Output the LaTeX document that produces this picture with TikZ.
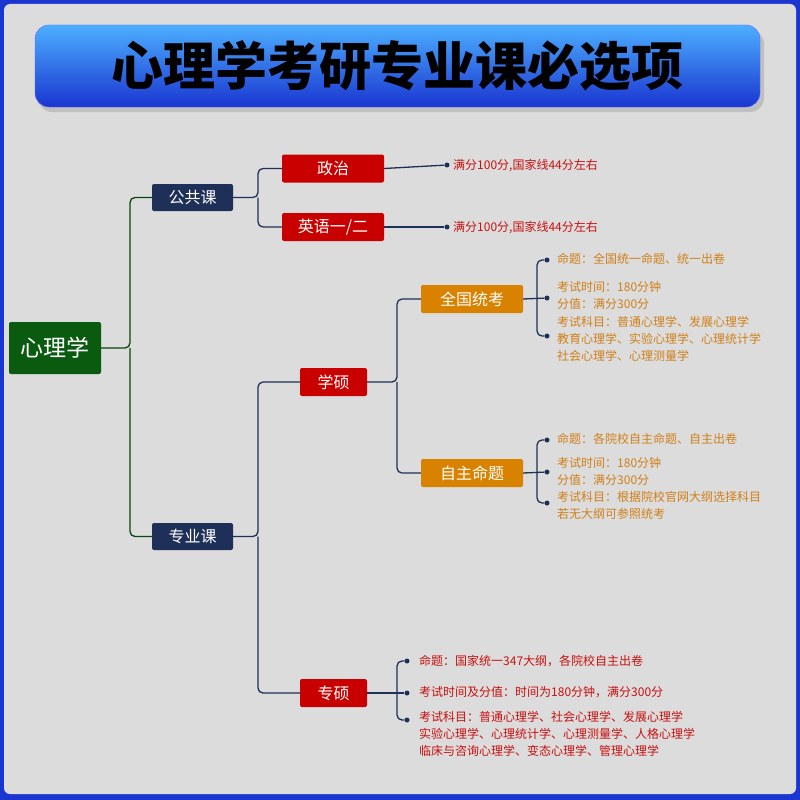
\documentclass[tikz,border=0pt]{standalone}
\usepackage{fontspec}
\newfontfamily\cjk{Noto Sans CJK SC}
\usetikzlibrary{shadows}
\definecolor{bblue}{HTML}{1A35D0}
\definecolor{bg}{HTML}{DCDCDC}
\definecolor{navy}{HTML}{1E3058}
\definecolor{dgreen}{HTML}{0A5A10}
\definecolor{rred}{HTML}{C80000}
\definecolor{oorange}{HTML}{D98200}
\definecolor{tred}{HTML}{C81010}
\definecolor{torange}{HTML}{D0801A}
\begin{document}
\begin{tikzpicture}[x=1pt,y=-1pt,
  box/.style={rounded corners=2pt,minimum height=28pt,text=white,font=\cjk\fontsize{16}{16}\selectfont,inner sep=0pt},
  navybox/.style={box,fill=navy,minimum width=81pt,minimum height=27pt},
  redbox/.style={box,fill=rred,minimum width=102pt},
  smallred/.style={box,fill=rred,minimum width=67pt},
  orbox/.style={box,fill=oorange,minimum width=102pt},
  conn/.style={draw=navy,line width=1.3pt,rounded corners=5pt},
  gconn/.style={draw=dgreen!80!black,line width=1.3pt,rounded corners=5pt},
  dot/.style={circle,fill=navy,inner sep=0pt,minimum size=5pt},
  rtxt/.style={anchor=west,text=tred,font=\cjk\fontsize{12}{17}\selectfont,align=left,inner sep=0pt},
  otxt/.style={anchor=west,text=torange,font=\cjk\fontsize{12}{17}\selectfont,align=left,inner sep=0pt}]
\useasboundingbox (0,0) rectangle (800,800);
\fill[bblue] (0,0) rectangle (800,800);
\fill[bg,rounded corners=6pt] (4,4) rectangle (796,794);
\fill[black!25,rounded corners=14pt] (38,30) rectangle (764,112);
\shade[top color=blue!45!cyan!70,bottom color=bblue,rounded corners=14pt,draw=blue!60] (35,25) rectangle (760,107);
\node (title) at (397.5,66) {\cjk\bfseries\fontsize{52}{52}\selectfont 心理学考研专业课必选项};

\node[box,fill=dgreen,minimum width=92pt,minimum height=52pt,font=\cjk\fontsize{23}{23}\selectfont] (root) at (55,348) {心理学};
\node[navybox] (gg) at (192.5,197.5) {公共课};
\node[navybox] (zy) at (192.5,536.5) {专业课};
\node[redbox] (zz) at (333,168.5) {政治};
\node[redbox] (yy) at (333,227) {英语一/二};
\node[smallred] (xs) at (333.5,382) {学硕};
\node[smallred] (zs) at (333.5,693) {专硕};
\node[orbox] (qg) at (472,299) {全国统考};
\node[orbox] (zm) at (472,473) {自主命题};

\draw[gconn] (root.east) -- (130,348) |- (gg.west);
\draw[gconn] (130,348) |- (zy.west);
\draw[conn] (gg.east) -- (258,197.5) |- (zz.west);
\draw[conn] (258,197.5) |- (yy.west);
\draw[conn] (zy.east) -- (258,536.5) |- (xs.west);
\draw[conn] (258,536.5) |- (zs.west);
\draw[conn] (xs.east) -- (397,382) |- (qg.west);
\draw[conn] (397,382) |- (zm.west);

\node[dot] (d1) at (447,165) {};
\node[dot] (d2) at (447,227) {};
\draw[conn] (zz.east) -- (d1);
\draw[conn] (yy.east) -- (d2);
\node[rtxt] (t1) at (453,166) {满分100分,国家线44分左右};
\node[rtxt] (t2) at (453,228) {满分100分,国家线44分左右};

\node[dot] (q1) at (547,260) {};
\node[dot] (q2) at (547,298) {};
\node[dot] (q3) at (547,336) {};
\draw[conn] (qg.east) -- (q2);
\draw[conn] (537,299) |- (q1);
\draw[conn] (537,299) |- (q3);
\node[otxt] (qt1) at (557,259) {命题：全国统一命题、统一出卷};
\node[otxt,anchor=north west] (qt2) at (557,281) {考试时间：180分钟\\分值：满分300分};
\node[otxt,anchor=north west] (qt3) at (557,316) {考试科目：普通心理学、发展心理学\\教育心理学、实验心理学、心理统计学\\社会心理学、心理测量学};

\node[dot] (m1) at (547,440) {};
\node[dot] (m2) at (547,472) {};
\node[dot] (m3) at (547,503) {};
\draw[conn] (zm.east) -- (m2);
\draw[conn] (537,473) |- (m1);
\draw[conn] (537,473) |- (m3);
\node[otxt] (mt1) at (557,439) {命题：各院校自主命题、自主出卷};
\node[otxt,anchor=north west] (mt2) at (557,457) {考试时间：180分钟\\分值：满分300分};
\node[otxt,anchor=north west] (mt3) at (557,491) {考试科目：根据院校官网大纲选择科目\\若无大纲可参照统考};

\node[dot] (s1) at (407,661) {};
\node[dot] (s2) at (407,693) {};
\node[dot] (s3) at (407,720) {};
\draw[conn] (zs.east) -- (s2);
\draw[conn] (397,693) |- (s1);
\draw[conn] (397,693) |- (s3);
\node[rtxt] (st1) at (419,661) {命题：国家统一347大纲，各院校自主出卷};
\node[rtxt] (st2) at (419,692) {考试时间及分值：时间为180分钟，满分300分};
\node[rtxt,anchor=north west] (st3) at (419,711) {考试科目：普通心理学、社会心理学、发展心理学\\实验心理学、心理统计学、心理测量学、人格心理学\\临床与咨询心理学、变态心理学、管理心理学};
\end{tikzpicture}
\end{document}
